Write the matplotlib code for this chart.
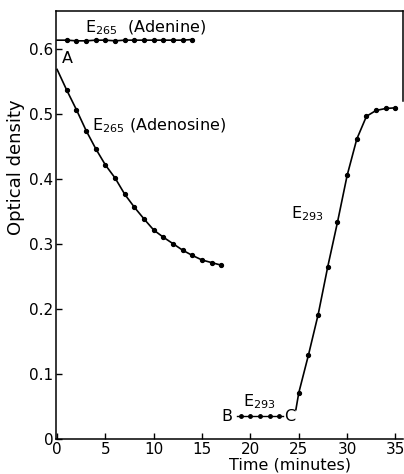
import matplotlib
matplotlib.use('Agg')
import matplotlib.pyplot as plt

# values (time in minutes, optical density)
adenine_t = [1, 2, 3, 4, 5, 6, 7, 8, 9, 10, 11, 12, 13, 14]
adenine_od = [0.613, 0.612, 0.612, 0.613, 0.613, 0.612, 0.613, 0.613, 0.613, 0.613, 0.613, 0.613, 0.613, 0.614]

adenosine_t = [0, 1, 2, 3, 4, 5, 6, 7, 8, 9, 10, 11, 12, 13, 14, 15, 16, 17]
adenosine_od = [0.568, 0.536, 0.506, 0.474, 0.446, 0.421, 0.401, 0.376, 0.356, 0.338,
                0.321, 0.310, 0.300, 0.290, 0.282, 0.275, 0.271, 0.267]

bc_t = [19, 20, 21, 22, 23]
bc_od = [0.035, 0.035, 0.035, 0.035, 0.035]

rise_t = [25, 26, 27, 28, 29, 30, 31, 32, 33, 34, 35]
rise_od = [0.071, 0.129, 0.191, 0.265, 0.333, 0.405, 0.461, 0.496, 0.505, 0.508, 0.509]

fig = plt.figure(figsize=(4.04, 4.74), dpi=100)
ax = fig.add_axes([0.139, 0.074, 0.859, 0.903])

ms = 2.8
# lines start at the axis / at point C, markers only on the measured points
ax.plot([0] + adenine_t, [adenine_od[0]] + adenine_od, color='black', lw=1.2)
ax.plot(adenine_t, adenine_od, 'o', color='black', markersize=ms)
ax.plot(adenosine_t, adenosine_od, color='black', lw=1.2)
ax.plot(adenosine_t[1:], adenosine_od[1:], 'o', color='black', markersize=ms)
ax.plot([18.6] + bc_t + [23.4], [bc_od[0]] + bc_od + [bc_od[-1]], color='black', lw=1.0)
ax.plot(bc_t, bc_od, 'o', color='black', markersize=2.5)
ax.plot([24.7] + rise_t, [0.045] + rise_od, color='black', lw=1.2)
ax.plot(rise_t, rise_od, 'o', color='black', markersize=ms)

fs = 11.5
ax.text(2.9, 0.632, r'E$_{265}$  (Adenine)', fontsize=fs, va='center')
ax.text(0.5, 0.585, 'A', fontsize=fs, va='center')
ax.text(3.6, 0.482, r'E$_{265}$ (Adenosine)', fontsize=fs, va='center')
ax.text(24.2, 0.347, r'E$_{293}$', fontsize=fs, va='center')
ax.text(19.2, 0.057, r'E$_{293}$', fontsize=fs, va='center')
ax.text(17.0, 0.035, 'B', fontsize=fs, va='center')
ax.text(23.5, 0.035, 'C', fontsize=fs, va='center')

ax.set_xlim(-0.1, 35.8)
ax.set_ylim(0, 0.658)
ax.set_xticks([0, 5, 10, 15, 20, 25, 30, 35])
ax.set_xticklabels(['0', '5', '10', '15', '20', '25', '30', '35'])
ax.set_yticks([0, 0.1, 0.2, 0.3, 0.4, 0.5, 0.6])
ax.set_yticklabels(['0', '0.1', '0.2', '0.3', '0.4', '0.5', '0.6'])
ax.tick_params(direction='in', length=4, width=1, labelsize=11, pad=2)

ax.set_xlabel('Time (minutes)', fontsize=fs)
ax.set_ylabel('Optical density', fontsize=13)
ax.xaxis.set_label_coords(0.675, -0.044)
ax.yaxis.set_label_coords(-0.089, 0.635)

for s in ax.spines.values():
    s.set_linewidth(1.1)
ax.spines['right'].set_bounds(0.52, 0.658)

fig.savefig('out.png', dpi=100)
